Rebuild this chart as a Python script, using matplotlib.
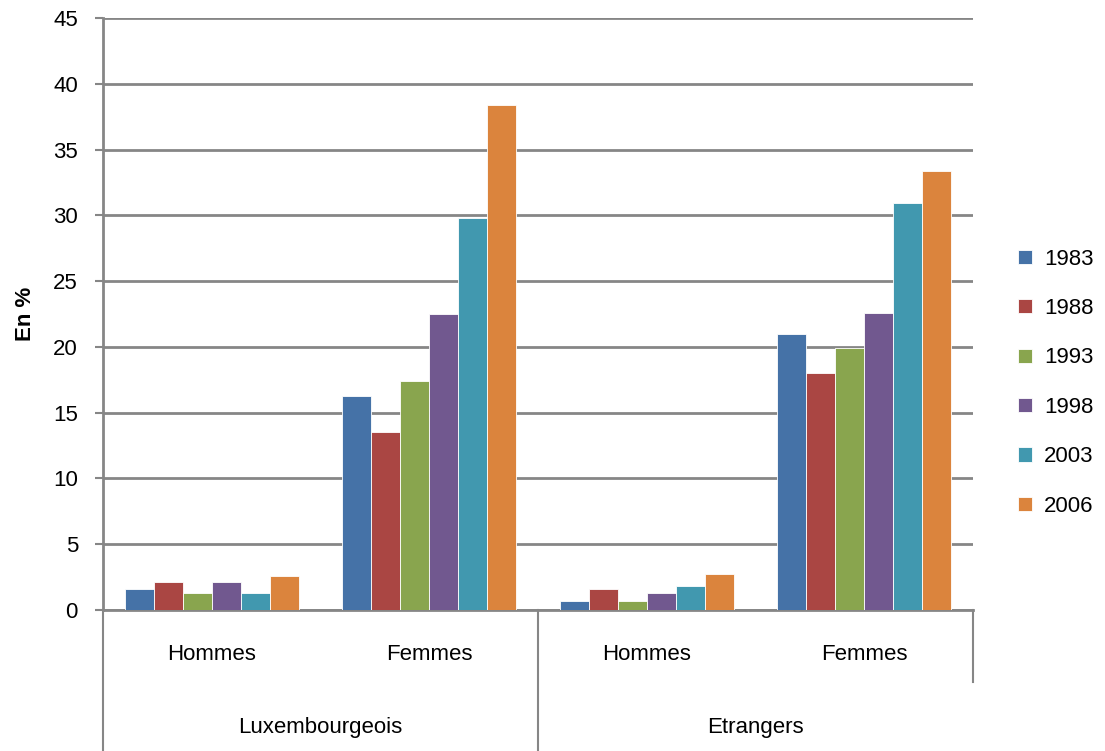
import numpy as np
import matplotlib.pyplot as plt

plt.rcParams['font.family'] = ['Liberation Sans', 'DejaVu Sans']

# data
years = ['1983', '1988', '1993', '1998', '2003', '2006']
groups = ['Luxembourgeois', 'Etrangers']
sexes = ['Hommes', 'Femmes']
lux_hommes = [1.6, 2.1, 1.3, 2.1, 1.3, 2.6]
lux_femmes = [16.3, 13.5, 17.4, 22.5, 29.8, 38.4]
etr_hommes = [0.7, 1.6, 0.7, 1.3, 1.8, 2.7]
etr_femmes = [21.0, 18.0, 19.9, 22.6, 30.9, 33.4]
colors = ['#4572A7', '#AA4643', '#89A54E', '#71588F', '#4198AF', '#DB843D']

series = np.array([lux_hommes, lux_femmes, etr_hommes, etr_femmes])  # categories x years

FS = 16

fig = plt.figure(figsize=(11.05, 7.51), dpi=100)
ax = fig.add_axes([103 / 1105, 1 - 610 / 751, 870 / 1105, 592 / 751])

n_cat = series.shape[0]
n_yr = len(years)
bw = 1.0 / (n_yr + 1.5)
x = np.arange(n_cat) + 0.5
for j, yr in enumerate(years):
    ax.bar(x + (j - (n_yr - 1) / 2) * bw, series[:, j], width=bw, color=colors[j],
           edgecolor='white', linewidth=0.6, label=yr, zorder=3)

grid_c = '#868686'
ax.set_xlim(0, n_cat)
ax.set_ylim(0, 45)
ax.set_yticks(np.arange(0, 46, 5))
ax.yaxis.grid(True, color=grid_c, linewidth=2, zorder=0)
ax.set_xticks([])
ax.tick_params(axis='y', length=6, width=1.5, color=grid_c, labelsize=FS, pad=12)
for s in ['top', 'right']:
    ax.spines[s].set_visible(False)
ax.spines['left'].set_color(grid_c)
ax.spines['left'].set_linewidth(2)
ax.spines['bottom'].set_color(grid_c)
ax.spines['bottom'].set_linewidth(2)
ax.set_ylabel('En %', fontsize=FS, fontweight='bold', labelpad=12)

# multi-level category axis
y1 = -72 / 592
y2 = -145 / 592
line_kw = dict(color=grid_c, linewidth=1.5, transform=ax.transAxes, clip_on=False)
ax.plot([0, 0], [0, y2], **line_kw)
ax.plot([0.5, 0.5], [0, y2], **line_kw)
ax.plot([1, 1], [0, y1], **line_kw)
for i in range(n_cat):
    ax.text((i + 0.5) / n_cat, -44 / 592, sexes[i % 2], transform=ax.transAxes,
            ha='center', va='center', fontsize=FS)
for g, name in enumerate(groups):
    ax.text(0.25 + 0.5 * g, -118 / 592, name, transform=ax.transAxes,
            ha='center', va='center', fontsize=FS)

ax.legend(loc='center left', bbox_to_anchor=(1.052, 0.384), frameon=False, fontsize=FS,
          borderpad=0, borderaxespad=0,
          handlelength=0.6, handleheight=0.6, handletextpad=0.55, labelspacing=1.28)

fig.savefig('out.png', dpi=100)
